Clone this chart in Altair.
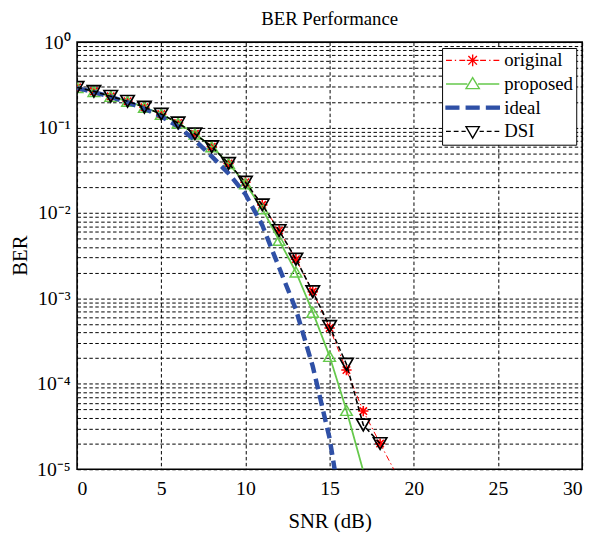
import altair as alt
import pandas as pd

# ---------------- data ----------------
series_names = ["original", "proposed", "ideal", "DSI"]

snr_original = list(range(0, 20))
ber_original = [0.295, 0.265, 0.232, 0.203, 0.173, 0.1436, 0.113, 0.0844, 0.0597, 0.038,
                0.0229, 0.01244, 0.00623, 0.00288, 0.0012, 0.00045, 0.000145, 4.8e-5, 2.0e-5, 8.5e-6]

snr_proposed = list(range(0, 18))
ber_proposed = [0.295, 0.265, 0.232, 0.203, 0.173, 0.1436, 0.113, 0.0844, 0.0597, 0.038,
                0.022, 0.0112, 0.0048, 0.00204, 0.00069, 0.00021, 4.9e-5, 9.5e-6]

snr_ideal = list(range(0, 17))
ber_ideal = [0.29, 0.26, 0.228, 0.197, 0.166, 0.135, 0.103, 0.071, 0.046, 0.029,
             0.0166, 0.0072, 0.0023, 0.00074, 0.00016, 2.3e-5, 1.4e-6]

snr_dsi = list(range(0, 19))
ber_dsi = [0.295, 0.265, 0.232, 0.203, 0.173, 0.1436, 0.113, 0.0844, 0.0597, 0.038,
           0.0229, 0.01244, 0.00623, 0.00288, 0.0012, 0.00047, 0.00017, 3.3e-5, 2.0e-5]

x_ticks = [0, 5, 10, 15, 20, 25, 30]
y_tick_labels = ["10\u2070", "10\u207b\u00b9", "10\u207b\u00b2", "10\u207b\u00b3", "10\u207b\u2074", "10\u207b\u2075"]
y_grid_values = [1.0] + [m * 10.0 ** (-k) for k in range(1, 6) for m in range(9, 0, -1)]

rows = []
for name, xs, ys in [("original", snr_original, ber_original),
                     ("proposed", snr_proposed, ber_proposed),
                     ("ideal", snr_ideal, ber_ideal),
                     ("DSI", snr_dsi, ber_dsi)]:
    for xv, yv in zip(xs, ys):
        rows.append({"series": name, "snr": xv, "ber": yv})
df = pd.DataFrame(rows)

# ---------------- styles ----------------
FONT = "Liberation Serif"
colors = {"original": "#ff0000", "proposed": "#66c94c", "ideal": "#2f50a6", "DSI": "#000000"}
line_style = {
    "original": dict(strokeWidth=1.0, strokeDash=[6, 3, 1.5, 3]),
    "proposed": dict(strokeWidth=1.8),
    "ideal": dict(strokeWidth=4.5, strokeDash=[11, 6]),
    "DSI": dict(strokeWidth=1.6, strokeDash=[5, 3]),
}
asterisk = "M-1,0L1,0M0,-1L0,1M-0.72,-0.72L0.72,0.72M-0.72,0.72L0.72,-0.72"
marker_style = {
    "original": dict(shape=asterisk, size=110, strokeWidth=1.6),
    "proposed": dict(shape="triangle-up", size=140, strokeWidth=1.5),
    "DSI": dict(shape="triangle-down", size=185, strokeWidth=1.7),
}

# legend symbol paths (line sample + marker), units of half symbol width
leg_original = ("M-1,0L-0.78,0M-0.67,0L-0.62,0M-0.5,0L-0.28,0"
                "M0.28,0L0.5,0M0.62,0L0.67,0M0.78,0L1,0"
                "M-0.22,0L0.22,0M0,-0.22L0,0.22M-0.16,-0.16L0.16,0.16M-0.16,0.16L0.16,-0.16")
leg_proposed = "M-1,0L-0.2,0M0.2,0L1,0M0,-0.24L0.25,0.17L-0.25,0.17Z"
leg_ideal = ("M-1,-0.055L-0.52,-0.055L-0.52,0.055L-1,0.055Z"
             "M-0.24,-0.055L0.24,-0.055L0.24,0.055L-0.24,0.055Z"
             "M0.52,-0.055L1,-0.055L1,0.055L0.52,0.055Z")
leg_dsi = ("M-1,0L-0.82,0M-0.71,0L-0.53,0M-0.42,0L-0.26,0"
           "M0.26,0L0.42,0M0.53,0L0.71,0M0.82,0L1,0"
           "M-0.25,-0.18L0.25,-0.18L0,0.25Z")

label_expr = ("abs(log(datum.value)/LN10 - round(log(datum.value)/LN10)) < 0.001 ? "
              "[" + ",".join("'" + s + "'" for s in y_tick_labels) + "][-round(log(datum.value)/LN10)] : ''")

x_enc = alt.X("snr:Q",
              scale=alt.Scale(domain=[0, 30], nice=False, zero=False),
              axis=alt.Axis(values=x_ticks, title="SNR (dB)", labelPadding=10,
                            titleY=53, titleBaseline="middle", format="d"))
y_enc = alt.Y("ber:Q",
              scale=alt.Scale(type="log", domain=[1e-5, 1], nice=False),
              axis=alt.Axis(values=y_grid_values, labelExpr=label_expr, title="BER",
                            labelPadding=7, labelOverlap=False, labelBound=False,
                            titleX=-57, titleY=216, titleBaseline="middle"))

base = alt.Chart(df)
layers = []
for name in series_names:
    layers.append(
        base.transform_filter(alt.datum.series == name)
        .mark_line(color=colors[name], clip=True, **line_style[name])
        .encode(x=x_enc, y=y_enc)
    )
    if name in marker_style:
        layers.append(
            base.transform_filter((alt.datum.series == name) & (alt.datum.ber >= 1e-5))
            .mark_point(color=colors[name], filled=False, opacity=1, clip=True, **marker_style[name])
            .encode(x=x_enc, y=y_enc)
        )

legend_layer = (
    base.transform_filter("false")
    .mark_point(filled=True, opacity=1)
    .encode(
        stroke=alt.Stroke("series:N",
                          scale=alt.Scale(domain=series_names, range=[colors[n] for n in series_names]),
                          legend=alt.Legend(title=None, orient="top-right", offset=6,
                                            padding=3, strokeColor="black", fillColor="white",
                                            cornerRadius=0, labelFont=FONT, labelFontSize=19,
                                            labelColor="black", symbolSize=2916,
                                            symbolStrokeWidth=1.4, clipHeight=19,
                                            rowPadding=4, labelOffset=4, symbolOffset=0)),
        fill=alt.Fill("series:N",
                      scale=alt.Scale(domain=series_names,
                                      range=["transparent", "transparent", colors["ideal"], "transparent"])),
        shape=alt.Shape("series:N",
                        scale=alt.Scale(domain=series_names,
                                        range=[leg_original, leg_proposed, leg_ideal, leg_dsi])),
    )
)
layers.append(legend_layer)

chart = (
    alt.layer(*layers)
    .properties(
        width=512, height=433,
        title=alt.TitleParams("BER Performance", font=FONT, fontSize=19, fontWeight="normal",
                              color="black", offset=3, anchor="middle", frame="group"),
        autosize=alt.AutoSizeParams(type="none"),
        padding={"left": 70, "top": 31, "right": 12, "bottom": 60},
    )
    .configure_view(stroke="black", strokeWidth=1.6)
    .configure_axis(
        grid=True, gridColor="black", gridDash=[3.5, 2.5], gridWidth=1, gridOpacity=1,
        ticks=False, domain=False,
        labelFont=FONT, labelFontSize=20, labelColor="black",
        titleFont=FONT, titleFontSize=21, titleFontWeight="normal", titleColor="black",
    )
)

chart.save("out.html", embed_options={"renderer": "svg", "actions": False})
